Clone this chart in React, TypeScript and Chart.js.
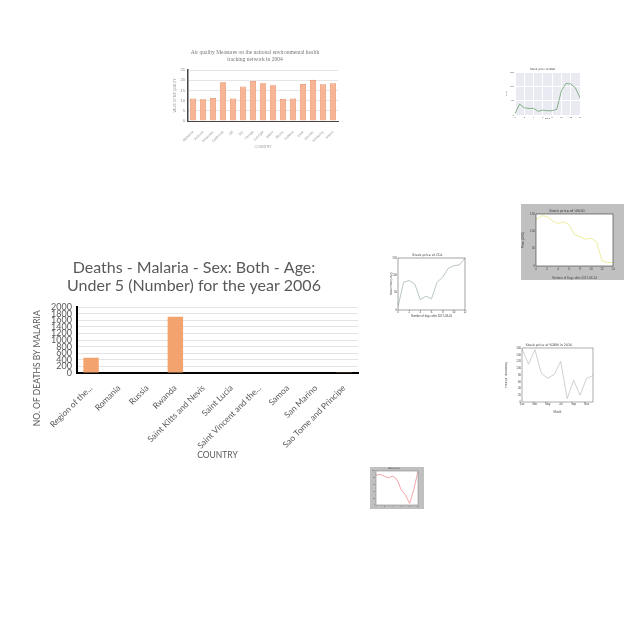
import React, { useEffect, useRef } from "react";
import { Chart, registerables } from "chart.js";

const areaBg = {
  id: "areaBg",
  beforeDraw(chart: any, _a: any, opts: any) {
    if (!opts || !opts.color) return;
    const { ctx, chartArea: a } = chart;
    ctx.save();
    ctx.fillStyle = opts.color;
    ctx.fillRect(a.left, a.top, a.right - a.left, a.bottom - a.top);
    ctx.restore();
  },
  afterDraw(chart: any, _a: any, opts: any) {
    if (!opts || !opts.border) return;
    const { ctx, chartArea: a } = chart;
    ctx.save();
    ctx.strokeStyle = opts.border;
    ctx.lineWidth = opts.borderWidth || 0.6;
    ctx.strokeRect(a.left, a.top, a.right - a.left, a.bottom - a.top);
    ctx.restore();
  },
};
Chart.register(...registerables, areaBg);

// ---- Main chart data ----
const malariaCountries = [
  "Region of the...",
  "Romania",
  "Russia",
  "Rwanda",
  "Saint Kitts and Nevis",
  "Saint Lucia",
  "Saint Vincent and the...",
  "Samoa",
  "San Marino",
  "Sao Tome and Principe",
];
const malariaDeaths = [460, 0, 0, 1710, 0, 0, 0, 0, 0, 25];
const malariaTitle = ["Deaths - Malaria - Sex: Both - Age:", "Under 5 (Number) for the year 2006"];
const malariaYTitle = "NO. OF DEATHS BY MALARIA";

// ---- Air quality chart data ----
const airStates = [
  "Alabama", "Arizona", "Arkansas", "California", "DE", "DC", "Florida", "Georgia",
  "Idaho", "Illinois", "Indiana", "Iowa", "Kansas", "Kentucky", "Maine",
];
const airValues = [11, 10.7, 11.3, 19, 11, 17, 19.7, 18.6, 17.6, 10.8, 11, 18.2, 20.2, 18, 18.5];
const airTitle = ["Air quality Measures on the national environmental health", "tracking network in 2004"];

// ---- Small stock charts ----
const stockADays = ["0", "1", "2", "3", "4", "5", "6", "7", "8", "9", "10", "11", "12", "13", "14"];
const stockAPrices = [5, 38, 25, 23, 23, 13, 17, 15, 15, 20, 85, 110, 108, 95, 60];

const stockBDays = ["0", "1", "2", "3", "4", "5", "6", "7", "8", "9", "10", "11", "12", "13", "14"];
const stockBPrices = [133, 145, 143, 130, 123, 127, 120, 90, 85, 77, 80, 70, 15, 10, 10];

const stockCDays = ["0", "1", "2", "3", "4", "5", "6", "7", "8", "9", "10", "11", "12"];
const stockCPrices = [10, 80, 85, 75, 30, 40, 32, 80, 95, 120, 128, 130, 150];

const stockDMonths = ["Jan", "Feb", "Mar", "Apr", "May", "Jun", "Jul", "Aug", "Sep", "Oct", "Nov", "Dec"];
const stockDPrices = [158, 112, 155, 85, 70, 82, 120, 10, 65, 20, 70, 78];

const stockEDays = ["0", "1", "2", "3", "4", "5", "6", "7", "8", "9", "10"];
const stockEPrices = [88, 90, 85, 80, 85, 75, 45, 30, 5, 45, 100];

function ChartBox({ left, top, width, height, bg, config }: any) {
  const ref = useRef<HTMLCanvasElement>(null);
  useEffect(() => {
    const c = new Chart(ref.current as HTMLCanvasElement, config);
    return () => c.destroy();
  }, []);
  return (
    <div style={{ position: "absolute", left, top, width, height, background: bg || "transparent" }}>
      <canvas ref={ref} width={width} height={height} style={{ display: "block" }} />
    </div>
  );
}

const grey = "#595959";
const mainFont = "Lato";
// trailing spaces shift the centred rotated title downwards, as in the original
const padSpaces = "\u00a0".repeat(26);

const mainConfig: any = {
  type: "bar",
  data: {
    labels: malariaCountries,
    datasets: [
      { data: malariaDeaths, backgroundColor: "#F3A46E", barPercentage: 0.55, categoryPercentage: 1 },
    ],
  },
  options: {
    responsive: false,
    animation: false,
    events: [],
    layout: { padding: { left: 0, right: 17, top: 0, bottom: 0 } },
    plugins: {
      legend: { display: false },
      tooltip: { enabled: false },
      title: {
        display: true,
        text: malariaTitle,
        color: grey,
        font: { family: mainFont, size: 16, weight: "normal", lineHeight: 1.1 },
        padding: { top: 4, bottom: 13 },
      },
    },
    scales: {
      x: {
        grid: { display: false },
        border: { color: "#000", width: 2 },
        ticks: { color: grey, font: { family: mainFont, size: 8.5 }, minRotation: 45, maxRotation: 45, autoSkip: false, padding: 2 },
        title: { display: true, text: "COUNTRY", color: grey, font: { family: mainFont, size: 8.5 }, padding: { top: 0, bottom: 10 } },
        afterFit(s: any) { s.height = 97; },
      },
      y: {
        min: 0,
        max: 2000,
        grid: { color: "#e4e4e4", drawTicks: false },
        border: { color: "#000", width: 2 },
        ticks: {
          stepSize: 200,
          autoSkip: false,
          color: grey,
          font: { family: mainFont, size: 9, lineHeight: 1 },
          padding: 5,
          callback: (v: any) => String(v),
        },
        title: { display: true, text: malariaYTitle + padSpaces, color: grey, font: { family: mainFont, size: 8.5 }, padding: { top: 2, bottom: 2 } },
        afterFit(s: any) { s.width = 47; },
      },
    },
  },
};

const airConfig: any = {
  type: "bar",
  data: {
    labels: airStates,
    datasets: [
      {
        data: airValues,
        backgroundColor: "#F7B596",
        borderColor: "#E58A5E",
        borderWidth: 0.8,
        barPercentage: 0.62,
        categoryPercentage: 1,
      },
    ],
  },
  options: {
    responsive: false,
    animation: false,
    events: [],
    layout: { padding: { left: 0, right: 6, top: 0, bottom: 0 } },
    plugins: {
      legend: { display: false },
      tooltip: { enabled: false },
      title: {
        display: true,
        text: airTitle,
        color: "#777",
        font: { family: "Liberation Serif", size: 5.5, weight: "normal", lineHeight: 1.1 },
        padding: { top: 5, bottom: 8 },
      },
    },
    scales: {
      x: {
        grid: { display: false },
        border: { color: "#444", width: 1 },
        ticks: { color: "#999", font: { size: 3.5 }, minRotation: 45, maxRotation: 45, autoSkip: false, padding: 1 },
        title: { display: true, text: "COUNTRY", color: "#999", font: { size: 3.5 }, padding: { top: 0, bottom: 4 } },
        afterFit(s: any) { s.height = 32; },
      },
      y: {
        min: 0,
        max: 25,
        grid: { color: "#e6e6e6", drawTicks: false },
        border: { color: "#444", width: 1.5 },
        ticks: { stepSize: 5, color: "#888", font: { size: 4 }, padding: 3 },
        title: { display: true, text: "VALUE OF AIR QUALITY", color: "#999", font: { size: 3 }, padding: 1 },
        afterFit(s: any) { s.width = 16; },
      },
    },
  },
};

function lineCfg(p: any): any {
  const [l, t, r, b] = p.area;
  const fs = p.fs || 3;
  return {
    type: "line",
    data: {
      labels: p.labels,
      datasets: [{ data: p.data, borderColor: p.color, borderWidth: p.lw || 0.8, pointRadius: 0, tension: 0, fill: false }],
    },
    options: {
      responsive: false,
      animation: false,
      events: [],
      layout: { padding: { left: 0, right: p.w - r, top: 0, bottom: 0 } },
      plugins: {
        legend: { display: false },
        tooltip: { enabled: false },
        title: {
          display: true,
          text: p.title,
          color: "#333",
          font: { family: "DejaVu Sans", size: fs + 0.5, weight: "normal", lineHeight: 1.1 },
          padding: { top: Math.max(0, t - (fs + 0.5) * 1.1 - 1), bottom: 1 },
        },
        areaBg: { color: p.plotBg, border: p.border },
      },
      scales: {
        x: {
          grid: { display: !!p.gridColor, color: p.gridColor, drawTicks: false },
          border: { display: false },
          ticks: { color: "#444", font: { size: fs }, maxRotation: 0, autoSkip: true, maxTicksLimit: p.xTicks || 8, padding: 1 },
          title: { display: !!p.xTitle, text: p.xTitle, color: "#444", font: { size: fs }, padding: 0 },
          afterFit(s: any) { s.height = p.h - b; },
        },
        y: {
          grid: { display: !!p.gridColor, color: p.gridColor, drawTicks: false },
          border: { display: false },
          ticks: { color: "#444", font: { size: fs }, maxTicksLimit: p.yTicks || 8, padding: 1 },
          title: { display: !!p.yTitle, text: p.yTitle, color: "#444", font: { size: fs }, padding: 0 },
          afterFit(s: any) { s.width = l; },
        },
      },
    },
  };
}

const stockAConfig = lineCfg({
  w: 80, h: 55, area: [10, 7, 75, 50], labels: stockADays, data: stockAPrices, color: "#5a9a5a",
  title: "Stock price of AGR", xTitle: "Days", yTitle: "Price", plotBg: "#eaeaf2", gridColor: "#ffffff",
  fs: 2.2, lw: 0.7, xTicks: 8, yTicks: 6,
});
const stockBConfig = lineCfg({
  w: 103, h: 76, area: [15, 10, 92, 62], labels: stockBDays, data: stockBPrices, color: "#eeeea0",
  title: "Stock price of USOD", xTitle: "Number of Days after 2017-03-14", yTitle: "Price (USD)", plotBg: "#ffffff",
  border: "#333", fs: 3, lw: 1, xTicks: 8, yTicks: 8,
});
const stockCConfig = lineCfg({
  w: 80, h: 70, area: [8, 10, 75, 62], labels: stockCDays, data: stockCPrices, color: "#a8b8b8",
  title: "Stock price of CDL", xTitle: "Number of days after 2017-03-01", yTitle: "Stock Price (USD)", border: "#666",
  fs: 2.8, lw: 0.8, xTicks: 13, yTicks: 8,
});
const stockDConfig = lineCfg({
  w: 100, h: 74, area: [17, 8, 88, 62], labels: stockDMonths, data: stockDPrices, color: "#c4c4c4",
  title: "Stock price of SGKN in 2016", xTitle: "Month", yTitle: "Price (in Thousands)", border: "#777",
  fs: 2.8, lw: 0.8, xTicks: 12, yTicks: 9,
});
const stockEConfig = lineCfg({
  w: 54, h: 42, area: [6, 4, 48, 38], labels: stockEDays, data: stockEPrices, color: "#f07f85",
  title: "Stock price", xTitle: "", yTitle: "", plotBg: "#ffffff", border: "#888", fs: 1.6, lw: 0.7, xTicks: 11, yTicks: 6,
});

export default function App() {
  return (
    <div style={{ position: "absolute", left: 0, top: 0, width: 640, height: 640, background: "#fff", overflow: "hidden" }}>
      <ChartBox left={172} top={45} width={172} height={108} config={airConfig} />
      <ChartBox left={505} top={65} width={80} height={55} config={stockAConfig} />
      <ChartBox left={521} top={204} width={103} height={76} bg="#c0c0c0" config={stockBConfig} />
      <ChartBox left={390} top={248} width={80} height={70} config={stockCConfig} />
      <ChartBox left={505} top={340} width={100} height={74} config={stockDConfig} />
      <ChartBox left={370} top={467} width={54} height={42} bg="#c0c0c0" config={stockEConfig} />
      <ChartBox left={30} top={255} width={345} height={215} config={mainConfig} />
    </div>
  );
}
